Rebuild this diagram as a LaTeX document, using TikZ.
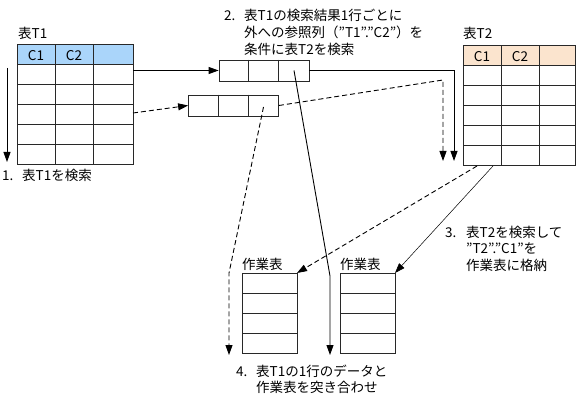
\documentclass[tikz,border=0pt]{standalone}
\usepackage{fontspec}
\setmainfont{Noto Sans CJK JP}
\usetikzlibrary{arrows.meta,calc}

\definecolor{headblue}{RGB}{170,213,250}
\definecolor{headpeach}{RGB}{251,228,206}
\definecolor{gridline}{RGB}{40,40,40}

\begin{document}
\begin{tikzpicture}
  [
    x=1pt, y=-1pt,
    every node/.style={inner sep=0pt, font=\fontsize{13.5}{16.5}\selectfont},
    table line/.style={draw=gridline, line width=1pt},
    row box/.style={draw=gridline, line width=0.8pt, minimum width=90pt, minimum height=21pt},
    flow/.style={line width=0.9pt, -{Triangle[length=10pt,width=7pt]}},
    flow dashed/.style={flow, dash pattern=on 5pt off 3pt},
    step text/.style={anchor=base west, align=left},
  ]
  \useasboundingbox (0,0) rectangle (577,403);

  % upper left corners of the tables
  \coordinate (t1) at (17,45);
  \coordinate (t2) at (463,46);
  \coordinate (w1) at (242,273);
  \coordinate (w2) at (340,273);
  \coordinate (t1e) at ($(t1) + (116,0)$);
  \coordinate (w1e) at ($(w1) + (55,0)$);
  \coordinate (w2e) at ($(w2) + (55,0)$);

  % T1 and T2
  \foreach \t / \col / \tw in {t1/headblue/116, t2/headpeach/112}
    {
     \fill[\col] (\t) rectangle ++(\tw,20);
     \foreach \k in {1,...,5}
       \draw[table line] ($(\t) + (0,20*\k)$) -- ++(\tw,0);
     \foreach \k in {38,76}
       \draw[table line] ($(\t) + (\k,0)$) -- ++(0,120);
     \draw[table line] (\t) rectangle ++(\tw,120);
     \node (\t c1) at ($(\t) + (19,10.5)$) {C1};
     \node (\t c2) at ($(\t) + (57,10.5)$) {C2};
    }
  \node[anchor=base west] (t1 name) at ($(t1) + (1,-6)$) {表T1};
  \node[anchor=base west] (t2 name) at ($(t2) + (0,-7)$) {表T2};

  % work tables
  \foreach \t in {w1, w2}
    {
     \foreach \k in {1,2,3}
       \draw[table line] ($(\t) + (0,20*\k)$) -- ++(55,0);
     \draw[table line] (\t) rectangle ++(55,80);
    }
  \node[anchor=base west] (w1 name) at ($(w1) + (0,-4)$) {作業表};
  \node[anchor=base west] (w2 name) at ($(w2) + (0,-4)$) {作業表};

  % one row of T1
  \node[row box] (r1) at (264,70.5) {};
  \node[row box] (r2) at (233.5,105.5) {};
  \foreach \r in {r1, r2}
    \foreach \k in {30,60}
      \draw[gridline, line width=0.8pt] ($(\r.north west) + (\k,0)$) -- ($(\r.south west) + (\k,0)$);
  \coordinate (c13) at ($(r1.center) + (30,0)$);
  \coordinate (c23) at ($(r2.center) + (30,1.5)$);

  % scan of T1
  \coordinate (scan top) at ($(t1) + (-10,23)$);
  \coordinate (scan end) at ($(t1) + (-10,117)$);
  \draw[flow] (scan top) -- (scan end);
  \coordinate (t1 r3) at ($(t1e) + (0,68)$);
  \draw[flow] (r1 -| t1e) -- (r1.west);
  \draw[flow dashed] (t1 r3) -- (r2.west);

  % search T2
  \coordinate (in1) at ($(t2) + (-9,115)$);
  \coordinate (in2) at ($(t2) + (-20,115)$);
  \coordinate (bend2) at ($(t2) + (-20,34)$);
  \draw[flow] (r1.east) -| (in1);
  \draw[flow dashed] (r2.east) -- (bend2) -- (in2);

  % store into work tables
  \coordinate (out1) at ($(t2) + (14,120)$);
  \coordinate (out2) at ($(t2) + (30,120)$);
  \draw[flow dashed] (out1) -- (w1e);
  \draw[flow, line width=0.5pt] (out2) -- (w2e);

  % match
  \coordinate (m1) at ($(w1) + (-13,0)$);
  \coordinate (m1 end) at ($(w1) + (-13,82)$);
  \coordinate (m2) at ($(w2) + (-10,3)$);
  \coordinate (m2 end) at ($(w2) + (-10,82)$);
  \draw[flow dashed] (c23) -- (m1) -- (m1 end);
  \draw[flow] (c13) -- (m2) -- (m2 end);

  % steps
  \node[step text] (s1) at (2,181)
    {\begin{tabular}[t]{@{}p{20pt}@{}l@{}}1. & 表T1を検索\end{tabular}};
  \node[step text] (s2) at (224,21)
    {\begin{tabular}[t]{@{}p{20pt}@{}l@{}}2. & 表T1の検索結果1行ごとに\\ & 外への参照列（"T1"."C2"）を\\ & 条件に表T2を検索\end{tabular}};
  \node[step text] (s3) at (445,237)
    {\begin{tabular}[t]{@{}p{21pt}@{}l@{}}3. & 表T2を検索して\\ & "T2"."C1"を\\ & 作業表に格納\end{tabular}};
  \node[step text] (s4) at (236,376)
    {\begin{tabular}[t]{@{}p{20pt}@{}l@{}}4. & 表T1の1行のデータと\\ & 作業表を突き合わせ\end{tabular}};

\end{tikzpicture}
\end{document}
